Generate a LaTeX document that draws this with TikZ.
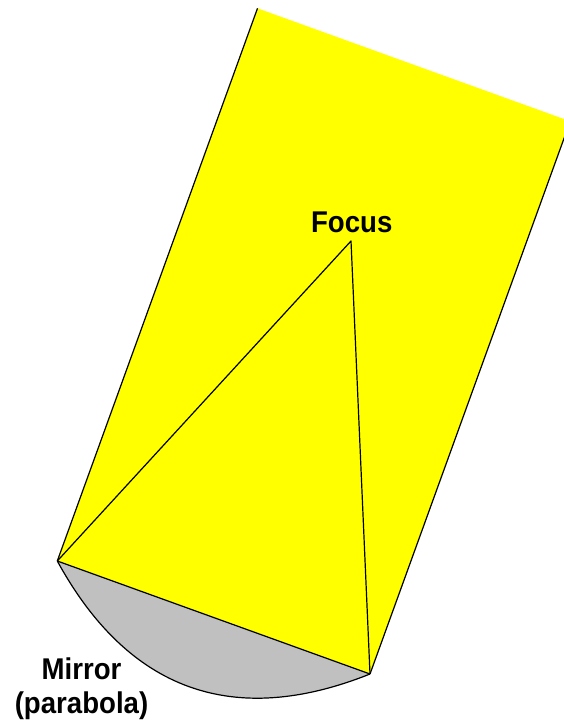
\documentclass[tikz,border=0pt]{standalone}
\usepackage{fontspec}
\newfontfamily\labfont[FakeStretch=0.92]{Liberation Sans}
\definecolor{beamyellow}{RGB}{255,255,0}
\definecolor{mirrorgray}{RGB}{192,192,192}
\begin{document}
\begin{tikzpicture}[x=1pt,y=-1pt,
  edge/.style={draw=black,line width=1.2pt,line join=round},
  lab/.style={font=\labfont\bfseries\fontsize{30}{34.5}\selectfont,inner sep=0pt,align=center}]
\useasboundingbox (0,0) rectangle (564,728);
\clip (0,0) rectangle (564,728);
% corners of the beam and the focus
\coordinate (TL) at (257.5,8.3);
\coordinate (BL) at (57.3,561);
\coordinate (BR) at (370,674);
\coordinate (TR) at (570.2,121.3);
\coordinate (F) at (351,241);
\coordinate (C1) at (128.4,691);
\coordinate (C2) at (233.5,728.5);
% beam
\fill[beamyellow] (TL) -- (BL) -- (BR) -- (TR) -- cycle;
% mirror segment
\fill[mirrorgray] (BL) .. controls (C1) and (C2) .. (BR) -- cycle;
% outlines
\draw[edge] (TL) -- (BL);
\draw[edge] (TR) -- (BR);
\draw[edge] (BL) -- (BR);
\draw[edge] (BL) .. controls (C1) and (C2) .. (BR);
\draw[edge] (BL) -- (F) -- (BR);
% labels
\node[lab,anchor=base] (focus) at (351.7,232.5) {Focus};
\node[lab,anchor=base] (mirror) at (81.5,713.5) {Mirror\\(parabola)};
\end{tikzpicture}
\end{document}
